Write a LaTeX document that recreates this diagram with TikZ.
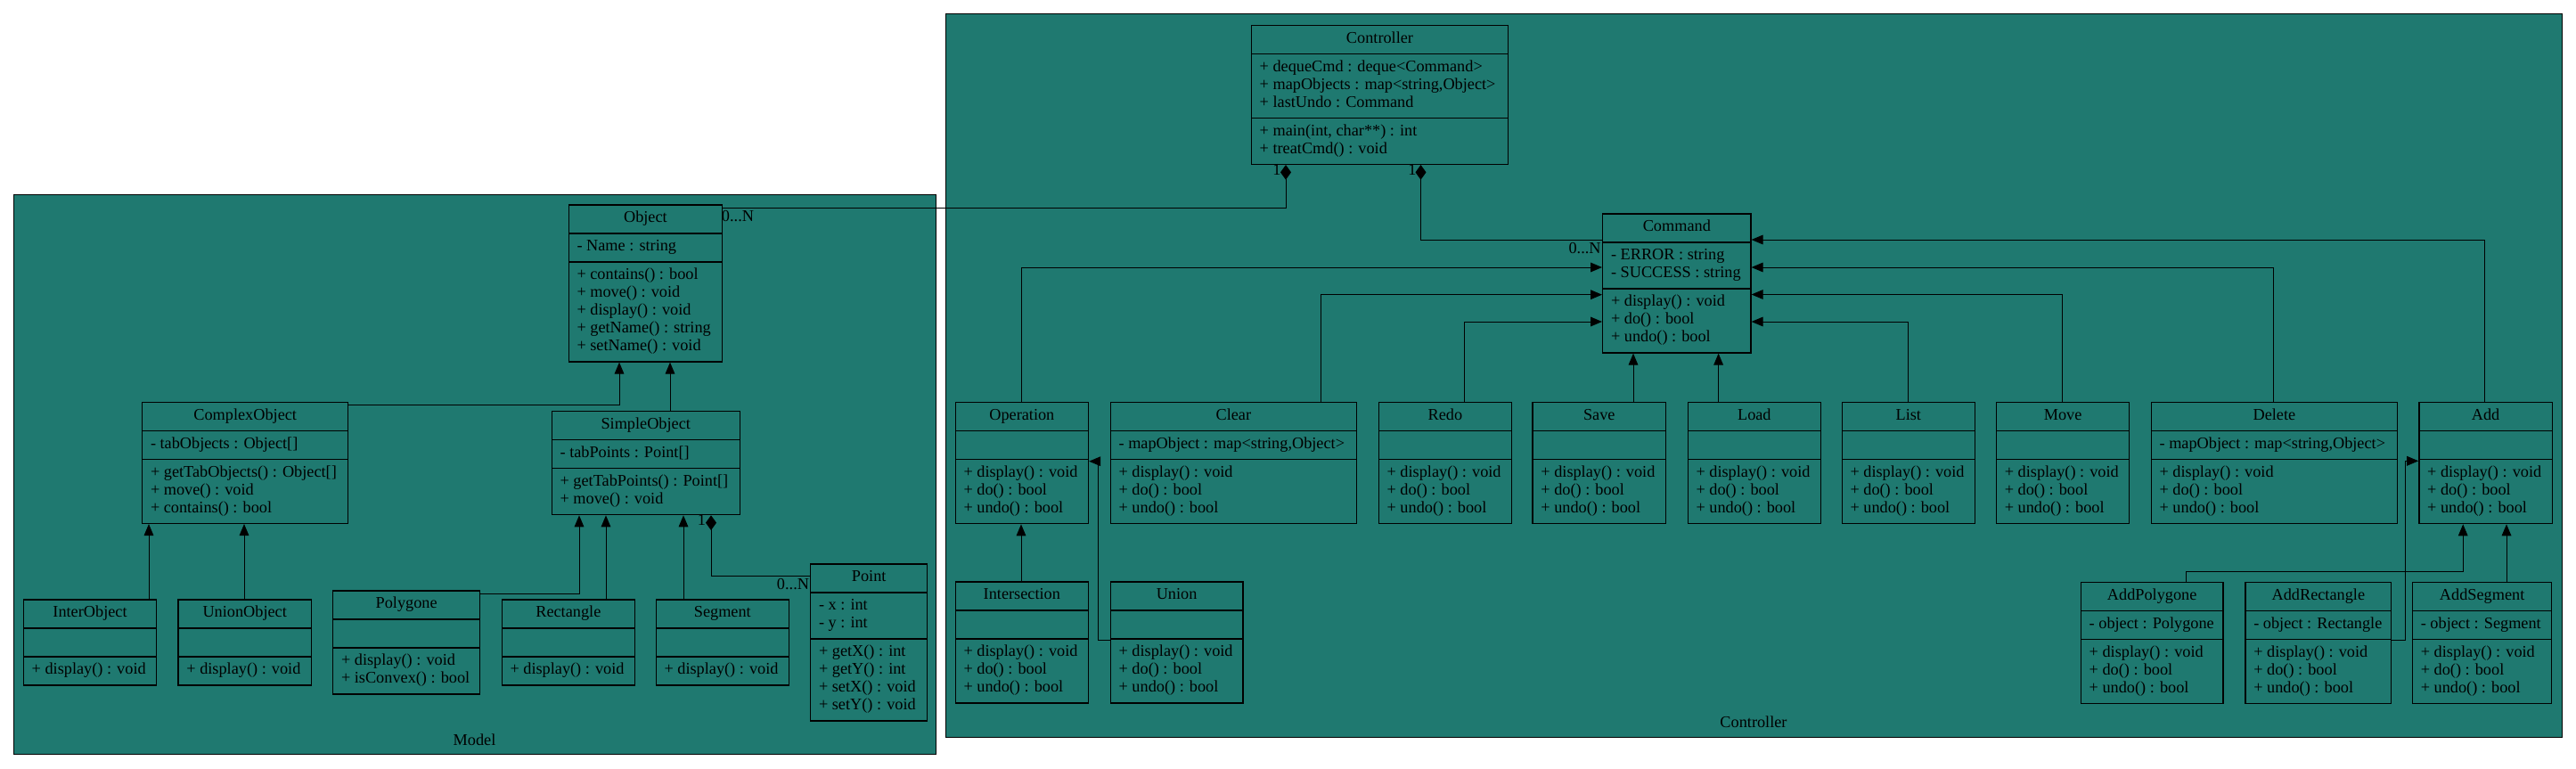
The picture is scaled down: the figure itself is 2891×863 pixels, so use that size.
\documentclass[tikz,border=0pt]{standalone}
\usepackage{fontspec}
\setmainfont{Liberation Serif}
\usetikzlibrary{shapes.multipart,arrows.meta}
\definecolor{umlteal}{RGB}{31,121,112}

\begin{document}
\begin{tikzpicture}[
        x=0.75pt, y=-0.75pt,
        every node/.style={font=\fontsize{13.7pt}{15pt}\selectfont, inner sep=0pt},
        cls/.style={draw, line width=1pt, fill=umlteal, anchor=north west,
            rectangle split, rectangle split parts=3,
            rectangle split part align={center,left,left}, align=left,
            inner xsep=7pt, inner ysep=4pt, minimum width=#1},
        ar/.style={-{Triangle[length=9.75pt,width=8pt]}, line width=0.75pt},
        comp/.style={{Diamond[length=12.5pt,width=9pt]}-, line width=0.75pt},
        clust/.style={draw, line width=0.75pt, fill=umlteal},
    ]
    \useasboundingbox (0,0) rectangle (2891,863);

    \draw[clust] (15,218) rectangle (1050,846);
    \draw[clust] (1061,16) rectangle (2875,827);
    \node[](modelname) at (532.5,830) {Model};
    \node[](controllername) at (1968,810) {Controller};

    \node[cls=129.4pt](Object) at (637.5,229.3) {\strut Object
        \nodepart{two}\strut - Name : string
        \nodepart{three}\strut + contains() : bool\\ + move() : void\\ + display() : void\\ + getName() : string\\ + setName() : void\strut};
    \node[cls=173.3pt](ComplexObject) at (159,450.7) {\strut ComplexObject
        \nodepart{two}\strut - tabObjects : Object[]
        \nodepart{three}\strut + getTabObjects() : Object[]\\ + move() : void\\ + contains() : bool\strut};
    \node[cls=158.2pt](SimpleObject) at (618.6,461) {\strut SimpleObject
        \nodepart{two}\strut - tabPoints : Point[]
        \nodepart{three}\strut + getTabPoints() : Point[]\\ + move() : void\strut};
    \node[cls=112pt](InterObject) at (25.7,672.3) {\strut InterObject
        \nodepart{two}\strut
        \nodepart{three}\strut + display() : void};
    \node[cls=112pt](UnionObject) at (199.4,672.3) {\strut UnionObject
        \nodepart{two}\strut
        \nodepart{three}\strut + display() : void};
    \node[cls=123.8pt](Polygone) at (373,662.3) {\strut Polygone
        \nodepart{two}\strut
        \nodepart{three}\strut + display() : void\\ + isConvex() : bool\strut};
    \node[cls=112pt](Rectangle) at (562.5,672.3) {\strut Rectangle
        \nodepart{two}\strut
        \nodepart{three}\strut + display() : void};
    \node[cls=112pt](Segment) at (735.5,672.3) {\strut Segment
        \nodepart{two}\strut
        \nodepart{three}\strut + display() : void};
    \node[cls=98.3pt](Point) at (909,632.3) {\strut Point
        \nodepart{two}\strut - x : int\\ - y : int\strut
        \nodepart{three}\strut + getX() : int\\ + getY() : int\\ + setX() : void\\ + setY() : void\strut};

    \node[cls=216.2pt](Controller) at (1403.7,27.7) {\strut Controller
        \nodepart{two}\strut + dequeCmd : deque<Command>\\ + mapObjects : map<string,Object>\\ + lastUndo : Command\strut
        \nodepart{three}\strut + main(int, char**) : int\\ + treatCmd() : void\strut};
    \node[cls=124.7pt](Command) at (1798,239.3) {\strut Command
        \nodepart{two}\strut - ERROR : string\\ - SUCCESS : string\strut
        \nodepart{three}\strut + display() : void\\ + do() : bool\\ + undo() : bool\strut};
    \node[cls=112pt](Operation) at (1071.5,451) {\strut Operation
        \nodepart{two}\strut
        \nodepart{three}\strut + display() : void\\ + do() : bool\\ + undo() : bool\strut};
    \node[cls=207.1pt](Clear) at (1245.6,451) {\strut Clear
        \nodepart{two}\strut - mapObject : map<string,Object>
        \nodepart{three}\strut + display() : void\\ + do() : bool\\ + undo() : bool\strut};
    \node[cls=112pt](Redo) at (1546.6,451) {\strut Redo
        \nodepart{two}\strut
        \nodepart{three}\strut + display() : void\\ + do() : bool\\ + undo() : bool\strut};
    \node[cls=112pt](Save) at (1719.4,451) {\strut Save
        \nodepart{two}\strut
        \nodepart{three}\strut + display() : void\\ + do() : bool\\ + undo() : bool\strut};
    \node[cls=112pt](Load) at (1893.5,451) {\strut Load
        \nodepart{two}\strut
        \nodepart{three}\strut + display() : void\\ + do() : bool\\ + undo() : bool\strut};
    \node[cls=112pt](List) at (2066.5,451) {\strut List
        \nodepart{two}\strut
        \nodepart{three}\strut + display() : void\\ + do() : bool\\ + undo() : bool\strut};
    \node[cls=112pt](Move) at (2239.8,451) {\strut Move
        \nodepart{two}\strut
        \nodepart{three}\strut + display() : void\\ + do() : bool\\ + undo() : bool\strut};
    \node[cls=207.2pt](Delete) at (2413.6,451) {\strut Delete
        \nodepart{two}\strut - mapObject : map<string,Object>
        \nodepart{three}\strut + display() : void\\ + do() : bool\\ + undo() : bool\strut};
    \node[cls=112pt](Add) at (2714.2,451) {\strut Add
        \nodepart{two}\strut
        \nodepart{three}\strut + display() : void\\ + do() : bool\\ + undo() : bool\strut};
    \node[cls=112pt](Intersection) at (1071.5,652.3) {\strut Intersection
        \nodepart{two}\strut
        \nodepart{three}\strut + display() : void\\ + do() : bool\\ + undo() : bool\strut};
    \node[cls=111.5pt](Union) at (1245.6,652.3) {\strut Union
        \nodepart{two}\strut
        \nodepart{three}\strut + display() : void\\ + do() : bool\\ + undo() : bool\strut};
    \node[cls=119.7pt](AddPolygone) at (2334.7,652.7) {\strut AddPolygone
        \nodepart{two}\strut - object : Polygone
        \nodepart{three}\strut + display() : void\\ + do() : bool\\ + undo() : bool\strut};
    \node[cls=122.8pt](AddRectangle) at (2519.3,652.7) {\strut AddRectangle
        \nodepart{two}\strut - object : Rectangle
        \nodepart{three}\strut + display() : void\\ + do() : bool\\ + undo() : bool\strut};
    \node[cls=117.2pt](AddSegment) at (2706.8,652.7) {\strut AddSegment
        \nodepart{two}\strut - object : Segment
        \nodepart{three}\strut + display() : void\\ + do() : bool\\ + undo() : bool\strut};

    \draw[ar] (ComplexObject.east |- 0,454) -| (Object.south -| 695,0);
    \draw[ar] (SimpleObject.north -| 752,0) -- (Object.south -| 752,0);
    \draw[ar] (InterObject.north -| 167,0) -- (ComplexObject.south -| 167,0);
    \draw[ar] (UnionObject.north -| 274,0) -- (ComplexObject.south -| 274,0);
    \draw[ar] (Polygone.east |- 0,666.7) -| (SimpleObject.south -| 650,0);
    \draw[ar] (Rectangle.north -| 680,0) -- (SimpleObject.south -| 680,0);
    \draw[ar] (Segment.north -| 767,0) -- (SimpleObject.south -| 767,0);
    \draw[comp] (SimpleObject.south -| 798,0) |- (Point.west |- 0,646.7);
    \node[](pointone) at (787.5,583) {1};
    \node[](pointmany) at (890,656) {0...N};

    \draw[comp] (Controller.south -| 1443,0) |- (Object.east |- 0,233);
    \node[](objone) at (1433,190) {1};
    \node[](objmany) at (828,243) {0...N};
    \draw[comp] (Controller.south -| 1594.5,0) |- (Command.west |- 0,269);
    \node[](cmdone) at (1585,190) {1};
    \node[](cmdmany) at (1778.6,278.5) {0...N};

    \draw[ar] (Operation.north -| 1146,0) |- (Command.west |- 0,300);
    \draw[ar] (Clear.north -| 1482,0) |- (Command.west |- 0,330.7);
    \draw[ar] (Redo.north -| 1643.5,0) |- (Command.west |- 0,361);
    \draw[ar] (Save.north -| 1833,0) -- (Command.south -| 1833,0);
    \draw[ar] (Load.north -| 1928.6,0) -- (Command.south -| 1928.6,0);
    \draw[ar] (List.north -| 2141,0) |- (Command.east |- 0,361);
    \draw[ar] (Move.north -| 2314.2,0) |- (Command.east |- 0,330.5);
    \draw[ar] (Delete.north -| 2551.7,0) |- (Command.east |- 0,300);
    \draw[ar] (Add.north -| 2788.6,0) |- (Command.east |- 0,269);
    \draw[ar] (Intersection.north -| 1146,0) -- (Operation.south -| 1146,0);
    \draw[ar] (Union.west |- 0,718) -- ++(-12.8,0) |- (Operation.east |- 0,517.7);
    \draw[ar] (AddPolygone.north -| 2453.4,0) -- ++(0,-11.7) -| (Add.south -| 2764.2,0);
    \draw[ar] (AddRectangle.east |- 0,718.7) -- ++(15.3,0) |- (Add.west |- 0,517.3);
    \draw[ar] (AddSegment.north -| 2813,0) -- (Add.south -| 2813,0);
    \end{tikzpicture}
\end{document}
